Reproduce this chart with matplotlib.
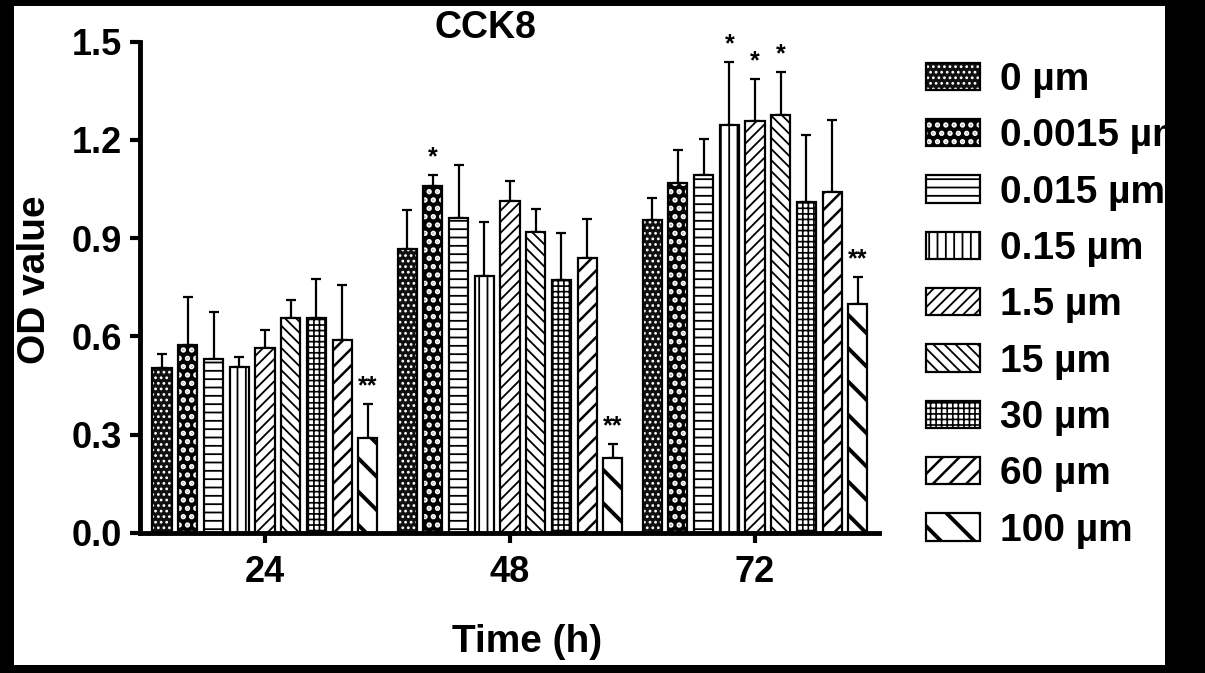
import matplotlib
matplotlib.use("Agg")
import matplotlib.pyplot as plt
from matplotlib.patches import Rectangle
from matplotlib.legend_handler import HandlerTuple
import numpy as np

plt.rcParams['font.family'] = ['Liberation Sans', 'DejaVu Sans']
plt.rcParams['font.weight'] = 'bold'
plt.rcParams['hatch.linewidth'] = 1.3

# ---------------- data ----------------
time_labels = ['24', '48', '72']
series_labels = ['0 µm', '0.0015 µm', '0.015 µm', '0.15 µm', '1.5 µm',
                 '15 µm', '30 µm', '60 µm', '100 µm']

mean_0 = [0.505, 0.868, 0.956]
mean_0p0015 = [0.575, 1.059, 1.068]
mean_0p015 = [0.530, 0.961, 1.094]
mean_0p15 = [0.507, 0.784, 1.246]
mean_1p5 = [0.566, 1.015, 1.257]
mean_15 = [0.655, 0.919, 1.276]
mean_30 = [0.655, 0.773, 1.010]
mean_60 = [0.588, 0.840, 1.040]
mean_100 = [0.290, 0.228, 0.700]

err_0 = [0.041, 0.117, 0.066]
err_0p0015 = [0.145, 0.035, 0.100]
err_0p015 = [0.145, 0.163, 0.109]
err_0p15 = [0.029, 0.167, 0.191]
err_1p5 = [0.053, 0.061, 0.129]
err_15 = [0.055, 0.071, 0.133]
err_30 = [0.119, 0.143, 0.206]
err_60 = [0.168, 0.119, 0.222]
err_100 = [0.103, 0.043, 0.081]

sig_0 = ['', '', '']
sig_0p0015 = ['', '*', '']
sig_0p015 = ['', '', '']
sig_0p15 = ['', '', '*']
sig_1p5 = ['', '', '*']
sig_15 = ['', '', '*']
sig_30 = ['', '', '']
sig_60 = ['', '', '']
sig_100 = ['**', '**', '**']

means = [mean_0, mean_0p0015, mean_0p015, mean_0p15, mean_1p5,
         mean_15, mean_30, mean_60, mean_100]
errs = [err_0, err_0p0015, err_0p015, err_0p15, err_1p5,
        err_15, err_30, err_60, err_100]
sigs = [sig_0, sig_0p0015, sig_0p015, sig_0p15, sig_1p5,
        sig_15, sig_30, sig_60, sig_100]

# styles: (facecolor, hatch, hatch colour, hatch linewidth)
styles = [
    ('#101010', '...', 'white', 1.2),
    ('black', '..', 'white', 2.6),
    ('white', '--', 'black', 1.3),
    ('white', '||', 'black', 1.3),
    ('white', '///', 'black', 1.3),
    ('white', '\\\\\\', 'black', 1.3),
    ('white', '+++', 'black', 1.2),
    ('white', '//', 'black', 1.8),
    ('white', '\\', 'black', 2.8),
]
hatch_lw = {st[1]: st[3] for st in styles}

W, H = 1205, 673
fig = plt.figure(figsize=(W / 100, H / 100), dpi=100, facecolor='black')
fig.patches.append(Rectangle((14 / W, 1 - 665 / H), (1165 - 14) / W, (665 - 6) / H,
                             transform=fig.transFigure, facecolor='white',
                             edgecolor='none', zorder=-10))

ax = fig.add_axes([140 / W, 1 - 533 / H, (879 - 140) / W, (533 - 41.7) / H])
ax.set_facecolor('none')

groups = np.arange(len(time_labels))
pitch = 0.105
bw = 0.078


def set_hlw(p, lw):
    if hasattr(p, 'set_hatch_linewidth'):
        p.set_hatch_linewidth(lw)


handles = []
for i, (m, e, s, st) in enumerate(zip(means, errs, sigs, styles)):
    x = groups + (i - 4) * pitch
    fc, hatch, hc, hlw = st
    fill = ax.bar(x, m, width=bw, color=fc, edgecolor=hc, linewidth=0,
                  hatch=hatch, zorder=2)
    for p in fill:
        set_hlw(p, hlw)
    outline = ax.bar(x, m, width=bw, fill=False, edgecolor='black',
                     linewidth=1.6, zorder=3)
    ax.errorbar(x, m, yerr=[np.zeros(len(m)), e], fmt='none', ecolor='black',
                elinewidth=1.6, capsize=3.6, capthick=1.6, zorder=1)
    for xi, mi, ei, si in zip(x, m, e, s):
        if si:
            ax.annotate(si, (xi, mi + ei), xytext=(0, 4), textcoords='offset points',
                        ha='center', va='bottom', fontsize=18, fontweight='bold')
    handles.append((fill[0], outline[0]))

ax.set_xlim(-0.51, 2.506)
ax.set_ylim(0, 1.5)
ax.set_yticks([0.0, 0.3, 0.6, 0.9, 1.2, 1.5])
ax.set_yticklabels(['0.0', '0.3', '0.6', '0.9', '1.2', '1.5'])
ax.set_xticks(groups)
ax.set_xticklabels(time_labels)
for sp in ['top', 'right']:
    ax.spines[sp].set_visible(False)
for sp in ['left', 'bottom']:
    ax.spines[sp].set_linewidth(3.5)
ax.tick_params(axis='both', direction='out', length=7, width=3, labelsize=26)
ax.tick_params(axis='y', pad=6)
ax.tick_params(axis='x', pad=9)

fig.text(485 / W, 1 - 38 / H, 'CCK8', ha='center', va='baseline', fontsize=27)
fig.text(527 / W, 1 - 652 / H, 'Time (h)', ha='center', va='baseline', fontsize=28)
fig.text(45 / W, 1 - 280 / H, 'OD value', ha='center', va='baseline', fontsize=28,
         rotation=90, rotation_mode='anchor')

leg = ax.legend(handles, series_labels, handler_map={tuple: HandlerTuple(ndivide=1)},
                loc='upper left', bbox_to_anchor=(926 / W, 1 - 62 / H),
                bbox_transform=fig.transFigure, frameon=False, fontsize=28,
                handlelength=1.4, handleheight=0.7, handletextpad=0.5,
                labelspacing=0.523, borderpad=0, borderaxespad=0)
for r in leg.findobj(Rectangle):
    h = r.get_hatch()
    if h in hatch_lw:
        set_hlw(r, hatch_lw[h])

fig.savefig('out.png', dpi=100, facecolor='black')
